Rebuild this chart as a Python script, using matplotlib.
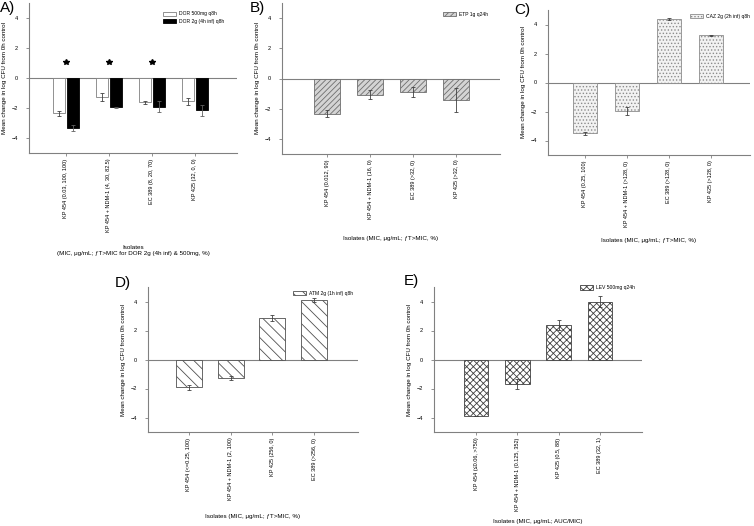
import numpy as np
import matplotlib.pyplot as plt

plt.rcParams['font.family'] = ['Liberation Sans', 'DejaVu Sans']
plt.rcParams['hatch.linewidth'] = 0.6

# A) doripenem, two regimens
a_labels = ['KP 454 (0.03, 100, 100)', 'KP 454 + NDM-1 (4, 30, 82.5)',
            'EC 389 (8, 20, 70)', 'KP 425 (32, 0, 0)']
a_dor500 = [-2.35, -1.25, -1.6, -1.55]
a_dor500_err = [0.15, 0.28, 0.1, 0.25]
a_dor2g = [-3.3, -1.95, -1.9, -2.15]
a_dor2g_err = [0.2, 0.03, 0.35, 0.35]
a_star_groups = [0, 1, 2]
a_star_y = [1.1, 1.1, 1.1]

# B) ertapenem
b_labels = ['KP 454 (0.012, 90)', 'KP 454 + NDM-1 (16, 0)',
            'EC 389 (>32, 0)', 'KP 425 (>32, 0)']
b_vals = [-2.32, -1.08, -0.87, -1.43]
b_err = [0.25, 0.3, 0.33, 0.77]

# C) ceftazidime
c_labels = ['KP 454 (0.25, 100)', 'KP 454 + NDM-1 (>128, 0)',
            'EC 389 (>128, 0)', 'KP 425 (>128, 0)']
c_vals = [-3.5, -1.95, 4.38, 3.25]
c_err = [0.1, 0.28, 0.05, 0.02]

# D) aztreonam
d_labels = ['KP 454 (<=0.25, 100)', 'KP 454 + NDM-1 (2, 100)',
            'KP 425 (256, 0)', 'EC 389 (>256, 0)']
d_vals = [-1.93, -1.3, 2.88, 4.1]
d_err = [0.15, 0.13, 0.2, 0.13]

# E) levofloxacin
e_labels = ['KP 454 (≤0.06, >750)', 'KP 454 + NDM-1 (0.125, 352)',
            'KP 425 (0.5, 88)', 'EC 389 (32, 1)']
e_vals = [-3.93, -1.7, 2.38, 4.0]
e_err = [0.0, 0.35, 0.35, 0.36]

W, H = 754, 526
fig = plt.figure(figsize=(W / 100, H / 100), dpi=100)


def px_axes(x0, y0, x1, y1):
    return fig.add_axes([x0 / W, 1 - y1 / H, (x1 - x0) / W, (y1 - y0) / H])


FS = 4
GREY = '#808080'
ERR = dict(ecolor='#404040', elinewidth=0.6, capsize=1.5, capthick=0.6)


def style(ax, xlim, labels, xlabel, labelpad):
    x = np.arange(len(labels))
    ax.set_xlim(*xlim)
    ax.set_ylim(-5, 5)
    ax.set_yticks([-4, -2, 0, 2, 4])
    ax.set_xticks(x)
    ax.set_xticklabels(labels, rotation=90, fontsize=FS)
    ax.tick_params(axis='y', labelsize=FS, length=2, width=0.6, color=GREY, pad=6)
    ax.tick_params(axis='x', length=2, width=0.6, color=GREY, pad=2)
    for s in ['top', 'right']:
        ax.spines[s].set_visible(False)
    for s in ['left', 'bottom']:
        ax.spines[s].set_color(GREY)
        ax.spines[s].set_linewidth(0.8)
    ax.axhline(0, color=GREY, lw=0.8, zorder=1)
    ax.set_ylabel('Mean change in log CFU from 0h control', fontsize=4.5, labelpad=3)
    ax.set_xlabel(xlabel, fontsize=4.5, labelpad=labelpad, linespacing=1.3)


def legend(ax, anchor):
    ax.legend(loc='upper left', bbox_to_anchor=anchor, frameon=False,
              fontsize=3.6, handlelength=2.6, handleheight=0.9,
              handletextpad=0.6, borderpad=0, labelspacing=0.5)


# panel A
ax = px_axes(29, 3, 237, 153)
x = np.arange(len(a_labels))
ax.bar(x - 0.17, a_dor500, 0.28, yerr=a_dor500_err, color='white',
       edgecolor=GREY, linewidth=0.6, label='DOR 500mg q8h', error_kw=ERR, zorder=2)
ax.bar(x + 0.17, a_dor2g, 0.28, yerr=a_dor2g_err, color='black',
       edgecolor='black', linewidth=0.6, label='DOR 2g (4h inf) q8h',
       error_kw=dict(ERR, ecolor='#606060'), zorder=2)
ax.plot(a_star_groups, a_star_y, ls='none', marker='*', ms=4, color='black')
style(ax, (-0.86, 3.98), a_labels,
      'Isolates\n(MIC, μg/mL; ƒT>MIC for DOR 2g (4h inf) & 500mg, %)', 9)
legend(ax, (0.63, 0.96))

# panel B
ax = px_axes(282, 3, 500, 154)
x = np.arange(len(b_labels))
ax.bar(x, b_vals, 0.62, yerr=b_err, color='#d4d4d4', edgecolor='#6e6e6e',
       linewidth=0.6, hatch='//////', label='ETP 1g q24h', error_kw=ERR, zorder=2)
style(ax, (-1.05, 4.02), b_labels, 'Isolates (MIC, μg/mL; ƒT>MIC, %)', 12)
legend(ax, (0.725, 0.96))

# panel C
ax = px_axes(548, 10, 750, 155)
x = np.arange(len(c_labels))
ax.bar(x, c_vals, 0.58, yerr=c_err, color='#f2f2f2', edgecolor='#8c8c8c',
       linewidth=0.6, hatch='.....', label='CAZ 2g (2h inf) q8h', error_kw=ERR, zorder=2)
style(ax, (-0.88, 3.93), c_labels, 'Isolates (MIC, μg/mL; ƒT>MIC, %)', 8)
legend(ax, (0.69, 0.99))

# panel D
ax = px_axes(148, 287, 358, 432)
x = np.arange(len(d_labels))
ax.bar(x, d_vals, 0.62, yerr=d_err, color='white', edgecolor='#505050',
       linewidth=0.6, hatch='\\\\\\', label='ATM 2g (1h inf) q8h', error_kw=ERR, zorder=2)
style(ax, (-0.98, 4.05), d_labels, 'Isolates (MIC, μg/mL; ƒT>MIC, %)', 10)
legend(ax, (0.68, 0.99))

# panel E
ax = px_axes(434, 287, 642, 432)
x = np.arange(len(e_labels))
ax.bar(x, e_vals, 0.6, yerr=e_err, color='white', edgecolor='#404040',
       linewidth=0.6, hatch='xxxxx', label='LEV 500mg q24h', error_kw=ERR, zorder=2)
style(ax, (-1.02, 4.02), e_labels, 'Isolates (MIC, μg/mL; AUC/MIC)', 6)
legend(ax, (0.69, 1.03))

# panel letters
for txt, px, py in [('A)', 0, 1), ('B)', 250, 1), ('C)', 514, 3),
                    ('D)', 115, 276), ('E)', 404, 274)]:
    fig.text(px / W, 1 - py / H, txt, fontsize=11, va='top', ha='left')

fig.savefig('out.png', dpi=100)
